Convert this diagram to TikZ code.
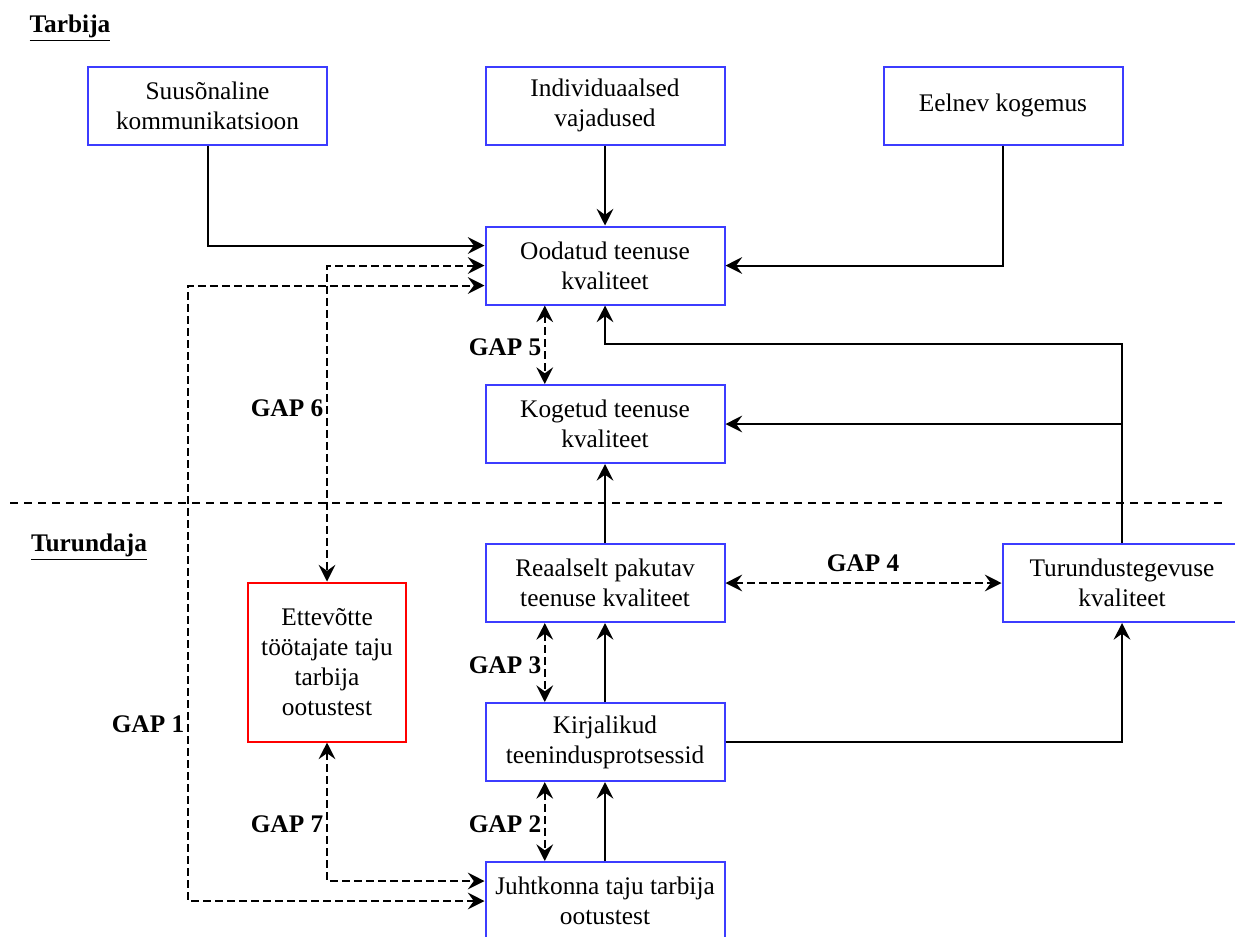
\documentclass[tikz,border=0pt]{standalone}
\usepackage{fontspec}
\setmainfont{Liberation Serif}
\usetikzlibrary{arrows.meta,calc}
\definecolor{boxblue}{RGB}{60,60,255}
\definecolor{boxred}{RGB}{255,0,0}
\begin{document}
\begin{tikzpicture}[x=0.75pt,y=-0.75pt,
  every node/.style={font=\fontsize{19}{22.5}\selectfont},
  box/.style={draw=boxblue,line width=1.5pt,minimum width=179.25pt,minimum height=58.5pt,inner sep=0pt,align=center,fill=white},
  redbox/.style={draw=boxred,line width=1.5pt,minimum width=118.5pt,minimum height=119.25pt,inner sep=0pt,align=center,fill=white},
  tip/.style={},
  arr/.style={line width=1.5pt,-{Stealth[length=12.5pt,width=12.5pt,inset=4.5pt]}},
  darr/.style={line width=1.5pt,dash pattern=on 6pt off 3pt,{Stealth[length=12.5pt,width=12.5pt,inset=4.5pt]}-{Stealth[length=12.5pt,width=12.5pt,inset=4.5pt]}},
  gap/.style={font=\fontsize{19}{22.5}\selectfont\bfseries},
  sep/.style={line width=1.3pt,dash pattern=on 6pt off 4.5pt}
]
\useasboundingbox (0,0) rectangle (1235,936);

% labels
\node (tarbija) at (70,28) {\underline{\textbf{Tarbija}}};
\node (turundaja) at (89,547) {\underline{\textbf{Turundaja}}};

% separator
\coordinate (sepL) at (10,503);
\coordinate (sepR) at (1225,503);
\draw[sep] (sepL) -- (sepR);

% boxes
\node[box] (sk) at (207.5,105.5) {Suusõnaline\\kommunikatsioon};
\node[box] (iv) at (605,105.5) {Individuaalsed\\vajadused};
\node[box] (ek) at (1003,105.5) {Eelnev kogemus};
\node[box] (ot) at (605,265.5) {Oodatud teenuse\\kvaliteet};
\node[box] (kt) at (605,424) {Kogetud teenuse\\kvaliteet};
\node[box] (rp) at (605,583) {Reaalselt pakutav\\teenuse kvaliteet};
\node[box] (tk) at (1122,583) {Turundustegevuse\\kvaliteet};
\node[redbox] (et) at (327,662) {Ettevõtte\\töötajate taju\\tarbija\\ootustest};
\node[box] (kp) at (605,742) {Kirjalikud\\teenindusprotsessid};
\node[box] (jt) at (605,901) {Juhtkonna taju tarbija\\ootustest};

% helper coordinates
\coordinate (otw1) at ($(ot.north west)!0.25!(ot.south west)$);
\coordinate (otw3) at ($(ot.north west)!0.75!(ot.south west)$);
\coordinate (ots) at ($(ot.south west)!0.25!(ot.south east)$);
\coordinate (ktn) at ($(kt.north west)!0.25!(kt.north east)$);
\coordinate (rps) at ($(rp.south west)!0.25!(rp.south east)$);
\coordinate (kpn) at ($(kp.north west)!0.25!(kp.north east)$);
\coordinate (kps) at ($(kp.south west)!0.25!(kp.south east)$);
\coordinate (jtn) at ($(jt.north west)!0.25!(jt.north east)$);
\coordinate (jtw1) at ($(jt.north west)!0.25!(jt.south west)$);
\coordinate (j1) at (605,344);
\coordinate (j2) at (1122,344);
\coordinate (g1) at (188,600);

% solid connectors
\draw[arr] (sk.south) |- (otw1);
\draw[arr] (iv.south) -- (ot.north);
\draw[arr] (ek.south) |- (ot.east);
\draw[arr] (tk.north) -- (j2) -- (j1) -- (ot.south);
\draw[arr] (tk.north |- kt.east) -- (kt.east);
\draw[arr] (rp.north) -- (kt.south);
\draw[arr] (kp.north) -- (rp.south);
\draw[arr] (kp.east) -| (tk.south);
\draw[arr] (jt.north) -- (kp.south);

% gaps
\draw[darr] (ots) -- (ktn);
\draw[darr] (rp.east) -- (tk.west);
\draw[darr] (rps) -- (kpn);
\draw[darr] (kps) -- (jtn);
\draw[darr] (et.south) |- (jtw1);
\draw[darr] (jt.west) -| (g1) |- (otw3);
\draw[darr] (ot.west) -| (et.north);

\node[gap] (gap5) at (505,347) {GAP 5};
\node[gap] (gap6) at (287,408) {GAP 6};
\node[gap] (gap4) at (863,563) {GAP 4};
\node[gap] (gap3) at (505,665) {GAP 3};
\node[gap] (gap1) at (148,724) {GAP 1};
\node[gap] (gap7) at (287,824) {GAP 7};
\node[gap] (gap2) at (505,824) {GAP 2};
\end{tikzpicture}
\end{document}
